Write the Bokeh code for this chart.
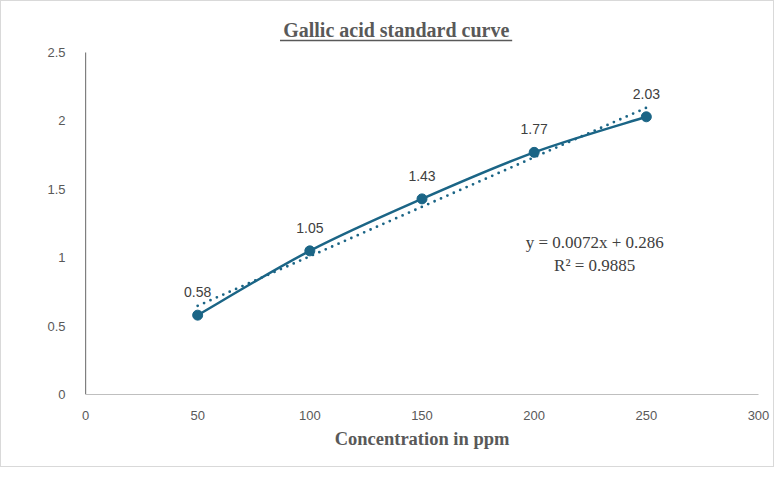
import numpy as np
from bokeh.plotting import figure
from bokeh.models import FixedTicker, Range1d, ColumnDataSource
from bokeh.core.properties import value
from bokeh.embed import file_html
from bokeh.resources import INLINE

# ---- data ----
concentration = [50, 100, 150, 200, 250]
absorbance = [0.58, 1.05, 1.43, 1.77, 2.03]
point_labels = ["0.58", "1.05", "1.43", "1.77", "2.03"]
x_ticks = [0, 50, 100, 150, 200, 250, 300]
y_ticks = [0, 0.5, 1, 1.5, 2, 2.5]
title_text = "Gallic acid standard curve"
x_label = "Concentration in ppm"
equation_lines = ["y = 0.0072x + 0.286", "R² = 0.9885"]

LINE = "#1b6586"
GRAY = "#595959"
TICK_FONT = "Liberation Sans"
SERIF = "Liberation Serif"

# frame extends above the y-axis maximum so the title sits inside it
Y_TOP = 393 / 136.8

p = figure(width=774, height=467, output_backend="svg", toolbar_location=None,
           x_range=Range1d(0, 300), y_range=Range1d(0, Y_TOP),
           min_border_left=84, min_border_right=17, min_border_top=0, min_border_bottom=74)
p.styles = {"border": "1px solid #d9d9d9"}
p.outline_line_color = None
p.xgrid.visible = False
p.ygrid.visible = False
p.background_fill_color = "white"
p.border_fill_color = "white"

# axes
p.xaxis.ticker = FixedTicker(ticks=x_ticks)
p.yaxis.ticker = FixedTicker(ticks=y_ticks)
p.xaxis.major_label_overrides = {0: "0"}
p.yaxis.major_label_overrides = {0: "0", 1: "1", 2: "2"}
for ax in (p.xaxis[0], p.yaxis[0]):
    ax.major_tick_line_color = None
    ax.minor_tick_line_color = None
    ax.major_label_text_font = TICK_FONT
    ax.major_label_text_font_size = "13px"
    ax.major_label_text_color = GRAY
p.xaxis.axis_line_color = "#bfbfbf"
p.yaxis.axis_line_color = None
p.xaxis.major_label_standoff = 10
p.yaxis.major_label_standoff = 14
p.xaxis.axis_label = x_label
p.xaxis.axis_label_text_font = SERIF
p.xaxis.axis_label_text_font_style = "bold"
p.xaxis.axis_label_text_font_size = "18.5px"
p.xaxis.axis_label_text_color = GRAY
p.xaxis.axis_label_standoff = 6

# y axis line only up to the axis maximum
p.line([x_ticks[0], x_ticks[0]], [y_ticks[0], y_ticks[-1]], line_color="black", line_width=1.2)

# smoothed series (Catmull-Rom bezier through data, like Excel smoothing)
xs = np.array(concentration, dtype=float)
ys = np.array(absorbance, dtype=float)
n = len(xs)
x0, y0, x1, y1, cx0, cy0, cx1, cy1 = ([] for _ in range(8))
for i in range(n - 1):
    im1 = max(i - 1, 0)
    ip2 = min(i + 2, n - 1)
    x0.append(xs[i]); y0.append(ys[i]); x1.append(xs[i + 1]); y1.append(ys[i + 1])
    cx0.append(xs[i] + (xs[i + 1] - xs[im1]) / 6); cy0.append(ys[i] + (ys[i + 1] - ys[im1]) / 6)
    cx1.append(xs[i + 1] - (xs[ip2] - xs[i]) / 6); cy1.append(ys[i + 1] - (ys[ip2] - ys[i]) / 6)
p.bezier(x0=x0, y0=y0, x1=x1, y1=y1, cx0=cx0, cy0=cy0, cx1=cx1, cy1=cy1,
         line_color=LINE, line_width=2.5)

# linear trendline
slope, intercept = np.polyfit(xs, ys, 1)
tx = [xs.min(), xs.max()]
ty = [slope * t + intercept for t in tx]
p.line(tx, ty, line_color=LINE, line_width=2.8, line_dash="0 7", line_cap="round")

# markers
p.scatter(concentration, absorbance, size=10, marker="circle", fill_color=LINE, line_color=LINE)

# data labels
src = ColumnDataSource(dict(x=concentration, y=absorbance, t=point_labels))
p.text(x="x", y="y", text="t", source=src, text_align="center", text_baseline="middle",
       y_offset=-23, text_font=value(TICK_FONT), text_font_size="14px", text_color="#404040")

# equation
p.text(x=[227, 227], y=[1.11, 0.94], text=equation_lines, text_align="center",
       text_baseline="middle", text_font=value(SERIF), text_font_size="17px",
       text_color="#404040")

# title with underline
p.text(x=[138.5], y=[2.668], text=[title_text], text_align="center", text_baseline="middle",
       text_font=value(SERIF), text_font_style="bold", text_font_size="20px", text_color=GRAY)
p.line([86.7, 190.2], [2.588, 2.588], line_color=GRAY, line_width=1.5)

open("out.html", "w").write(file_html(p, INLINE))
